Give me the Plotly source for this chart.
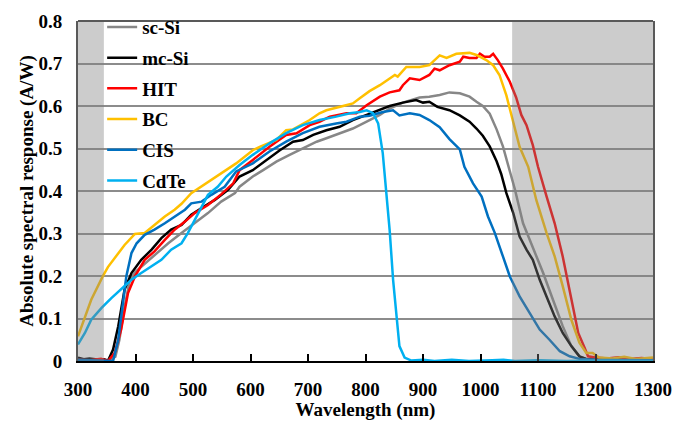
import plotly.graph_objects as go

# ---------------- data ----------------
sc_si_nm = [300, 320, 340, 355, 365, 372, 380, 390, 400, 410, 433, 457, 480, 503, 526, 549, 573, 581, 604, 622,
            645, 668, 691, 715, 732, 755, 778, 802, 825, 842, 865, 894, 911, 929, 946, 964, 981, 993, 1004, 1016,
            1028, 1039, 1048, 1060, 1074, 1091, 1109, 1126, 1143, 1158, 1172, 1185, 1200, 1220, 1240, 1260, 1280, 1300]
sc_si_val = [0.005, 0.003, 0.004, 0.002, 0.010, 0.050, 0.120, 0.190, 0.210, 0.222, 0.250, 0.277, 0.301, 0.324, 0.348,
             0.375, 0.395, 0.410, 0.434, 0.449, 0.469, 0.485, 0.500, 0.516, 0.524, 0.536, 0.547, 0.563, 0.579, 0.594,
             0.608, 0.620, 0.622, 0.626, 0.632, 0.630, 0.622, 0.610, 0.600, 0.582, 0.545, 0.505, 0.460, 0.403, 0.324,
             0.269, 0.207, 0.144, 0.082, 0.035, 0.011, 0.004, 0.005, 0.004, 0.006, 0.004, 0.005, 0.004]

mc_si_nm = [300, 310, 320, 330, 345, 352, 361, 370, 381, 393, 410, 428, 445, 462, 480, 497, 515, 538, 561, 581,
            604, 628, 651, 674, 691, 709, 732, 755, 778, 802, 825, 842, 865, 888, 900, 911, 925, 946, 964, 981,
            993, 1004, 1016, 1028, 1036, 1045, 1057, 1068, 1080, 1091, 1103, 1115, 1129, 1143, 1158, 1172, 1184,
            1200, 1230, 1260, 1300]
mc_si_val = [0.008, 0.004, 0.006, 0.004, 0.004, 0.000, 0.027, 0.082, 0.168, 0.207, 0.238, 0.262, 0.289, 0.309, 0.320,
             0.344, 0.360, 0.379, 0.403, 0.434, 0.449, 0.473, 0.496, 0.516, 0.520, 0.532, 0.543, 0.551, 0.567, 0.579,
             0.590, 0.600, 0.608, 0.614, 0.608, 0.610, 0.598, 0.590, 0.578, 0.563, 0.547, 0.530, 0.505, 0.470, 0.440,
             0.395, 0.348, 0.293, 0.262, 0.238, 0.191, 0.152, 0.105, 0.066, 0.035, 0.011, 0.005, 0.004, 0.006, 0.004,
             0.005]

hit_nm = [300, 320, 340, 352, 364, 375, 387, 399, 416, 433, 451, 468, 486, 503, 526, 549, 570, 581, 604, 633,
          662, 680, 703, 720, 738, 767, 784, 802, 825, 842, 859, 865, 877, 894, 911, 920, 929, 946, 964, 970,
          981, 993, 999, 1007, 1016, 1022, 1030, 1039, 1051, 1062, 1071, 1080, 1091, 1100, 1115, 1129, 1143,
          1158, 1170, 1181, 1187, 1200, 1220, 1240, 1260, 1280, 1300]
hit_val = [0.003, 0.002, 0.005, 0.000, 0.019, 0.074, 0.160, 0.199, 0.238, 0.258, 0.285, 0.309, 0.328, 0.348, 0.367,
           0.392, 0.418, 0.449, 0.473, 0.504, 0.532, 0.536, 0.555, 0.563, 0.575, 0.583, 0.583, 0.602, 0.622, 0.632,
           0.637, 0.649, 0.665, 0.661, 0.673, 0.688, 0.684, 0.696, 0.704, 0.716, 0.713, 0.713, 0.723, 0.716, 0.716,
           0.723, 0.708, 0.688, 0.657, 0.620, 0.579, 0.555, 0.508, 0.457, 0.387, 0.324, 0.246, 0.144, 0.066, 0.031,
           0.011, 0.008, 0.006, 0.009, 0.005, 0.007, 0.005]

bc_nm = [300, 323, 343, 352, 381, 399, 416, 433, 451, 468, 480, 497, 529, 546, 575, 604, 616, 645, 662, 674,
         703, 720, 732, 761, 778, 790, 807, 825, 842, 851, 856, 871, 894, 911, 929, 941, 958, 981, 993, 1010,
         1022, 1033, 1045, 1054, 1068, 1083, 1097, 1115, 1129, 1143, 1158, 1172, 1184, 1195, 1206, 1230, 1250,
         1270, 1300]
bc_val = [0.058, 0.144, 0.199, 0.221, 0.273, 0.299, 0.301, 0.320, 0.340, 0.356, 0.370, 0.395, 0.424, 0.438, 0.465,
          0.496, 0.504, 0.520, 0.543, 0.545, 0.567, 0.583, 0.590, 0.600, 0.606, 0.618, 0.635, 0.649, 0.665, 0.673,
          0.669, 0.692, 0.692, 0.696, 0.719, 0.713, 0.723, 0.725, 0.720, 0.708, 0.696, 0.673, 0.625, 0.580, 0.504,
          0.457, 0.379, 0.301, 0.246, 0.176, 0.097, 0.043, 0.019, 0.019, 0.008, 0.006, 0.010, 0.005, 0.008]

cis_nm = [300, 330, 350, 361, 370, 378, 384, 393, 402, 416, 433, 451, 468, 486, 497, 515, 532, 555, 575, 604,
          633, 662, 691, 720, 749, 767, 790, 807, 830, 848, 859, 877, 894, 911, 929, 946, 964, 972, 987, 1002,
          1013, 1025, 1039, 1051, 1068, 1086, 1103, 1120, 1138, 1155, 1172, 1200, 1250, 1300]
cis_val = [0.003, 0.002, 0.001, 0.000, 0.050, 0.129, 0.199, 0.254, 0.277, 0.297, 0.309, 0.324, 0.340, 0.356, 0.371,
           0.375, 0.391, 0.410, 0.446, 0.465, 0.493, 0.516, 0.536, 0.551, 0.559, 0.563, 0.575, 0.577, 0.586, 0.590,
           0.578, 0.583, 0.579, 0.567, 0.550, 0.522, 0.498, 0.457, 0.418, 0.387, 0.340, 0.301, 0.246, 0.199, 0.152,
           0.113, 0.074, 0.050, 0.023, 0.011, 0.005, 0.003, 0.002, 0.002]

cdte_nm = [300, 312, 323, 341, 358, 375, 393, 410, 428, 445, 462, 480, 491, 503, 515, 526, 543, 558, 581, 604,
           633, 662, 691, 720, 749, 773, 790, 802, 813, 822, 830, 836, 842, 848, 854, 859, 868, 880, 900, 920,
           950, 980, 1020, 1040, 1060, 1100, 1150, 1200, 1300]
cdte_val = [0.039, 0.066, 0.097, 0.125, 0.148, 0.168, 0.191, 0.207, 0.222, 0.238, 0.262, 0.277, 0.301, 0.332, 0.363,
            0.391, 0.410, 0.434, 0.461, 0.485, 0.512, 0.536, 0.555, 0.567, 0.575, 0.583, 0.586, 0.590, 0.583, 0.559,
            0.489, 0.403, 0.308, 0.191, 0.097, 0.035, 0.008, 0.001, 0.003, 0.000, 0.003, 0.000, 0.002, 0.003, 0.000,
            0.002, 0.000, 0.001, 0.000]

series_names = ["sc-Si", "mc-Si", "HIT", "BC", "CIS", "CdTe"]
series_x = [sc_si_nm, mc_si_nm, hit_nm, bc_nm, cis_nm, cdte_nm]
series_y = [sc_si_val, mc_si_val, hit_val, bc_val, cis_val, cdte_val]
series_colors = ["#878787", "#000000", "#ff0000", "#ffc000", "#0070c0", "#00b0f0"]

shaded_ranges = [(300, 345), (1055, 1300)]

x_ticks = list(range(300, 1301, 100))
y_ticks = [0, 0.1, 0.2, 0.3, 0.4, 0.5, 0.6, 0.7, 0.8]

FONT = "Liberation Serif, Times New Roman, serif"
BOLD = dict(family=FONT, size=19, weight="bold", color="black")

fig = go.Figure()
for name, xs, ys, col in zip(series_names, series_x, series_y, series_colors):
    fig.add_trace(go.Scatter(x=xs, y=ys, name=name, mode="lines", legendgroup=name,
                             line=dict(color=col, width=2.5)))

shapes = []
for a, b in shaded_ranges:
    shapes.append(dict(type="rect", xref="x", yref="paper", x0=a, x1=b, y0=0, y1=1,
                       fillcolor="rgba(128,128,128,0.4)", line=dict(width=0), layer="above"))
shapes.append(dict(type="line", xref="paper", yref="paper", x0=0, x1=1, y0=1, y1=1,
                   line=dict(color="#595959", width=2), layer="above"))

# page body adds an 8px offset, so the figure is drawn slightly smaller
fig.update_layout(
    width=675, height=413,
    margin=dict(l=70, r=30, t=13, b=60, autoexpand=False),
    paper_bgcolor="white", plot_bgcolor="white",
    font=BOLD,
    shapes=shapes,
    showlegend=True,
    legend=dict(x=0.042, y=1.038, xanchor="left", yanchor="top",
                bgcolor="rgba(0,0,0,0)", borderwidth=0, tracegroupgap=3,
                font=BOLD),
    xaxis=dict(range=[300, 1300], tickvals=x_ticks, ticks="inside", ticklen=7, tickwidth=1.5,
               tickcolor="black", showline=True, linecolor="black", linewidth=2, showgrid=False,
               zeroline=False, ticklabelstandoff=10, automargin=False,
               tickfont=BOLD,
               title=dict(text="Wavelength (nm)", standoff=8, font=BOLD)),
    yaxis=dict(range=[0, 0.8], tickvals=y_ticks, ticks="", showline=True, linecolor="#595959",
               linewidth=2, mirror=True, showgrid=True, gridcolor="#8c8c8c", gridwidth=1.5,
               zeroline=False, ticklabelstandoff=10, automargin=False,
               tickfont=BOLD,
               title=dict(text="Absolute spectral response (A/W)", standoff=0, font=BOLD)),
)

fig.write_html("out.html")
